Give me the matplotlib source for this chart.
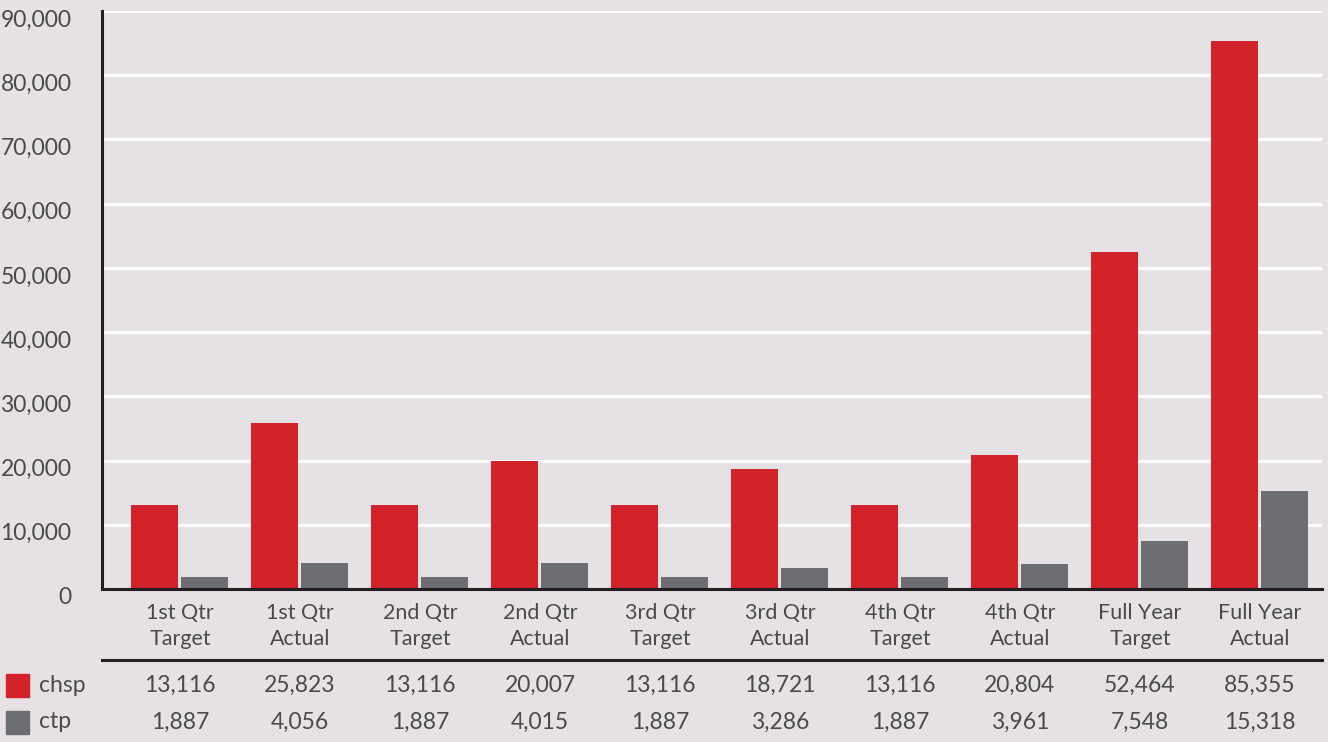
import matplotlib
matplotlib.use("Agg")
import matplotlib.pyplot as plt
import matplotlib.transforms as mtransforms
from matplotlib.patches import Rectangle
import numpy as np

categories = ["1st Qtr\nTarget", "1st Qtr\nActual", "2nd Qtr\nTarget", "2nd Qtr\nActual",
              "3rd Qtr\nTarget", "3rd Qtr\nActual", "4th Qtr\nTarget", "4th Qtr\nActual",
              "Full Year\nTarget", "Full Year\nActual"]
chsp = [13116, 25823, 13116, 20007, 13116, 18721, 13116, 20804, 52464, 85355]
ctp = [1887, 4056, 1887, 4015, 1887, 3286, 1887, 3961, 7548, 15318]
series_names = ["chsp", "ctp"]

RED = "#d2232a"
GRAY = "#6d6e71"
BG = "#e6e1e5"
INK = "#231f20"
TXT = "#4a4a4a"

plt.rcParams["font.family"] = ["Lato", "DejaVu Sans"]

W, H = 1328, 742
fig = plt.figure(figsize=(W / 100, H / 100), dpi=100, facecolor=BG)
ax = fig.add_axes([102 / W, (H - 589) / H, 1220 / W, 578 / H])
ax.set_facecolor(BG)

x = np.arange(len(categories))
bw = 0.39
ax.bar(x - 0.215, chsp, bw, color=RED, zorder=3)
ax.bar(x + 0.205, ctp, bw, color=GRAY, zorder=3)

ax.set_xlim(-0.65, 9.517)
ax.set_ylim(0, 90000)
ax.set_yticks(np.arange(0, 90001, 10000))
ax.set_yticklabels([f"{v:,}" for v in range(0, 90001, 10000)])
ax.yaxis.grid(True, color="white", lw=2.2, zorder=0)
ax.set_axisbelow(True)
ax.tick_params(axis="y", length=0, pad=22, labelsize=16.5, labelcolor=TXT)
ax.tick_params(axis="x", length=0, pad=10, labelsize=15.5, labelcolor=TXT)
ax.set_xticks(x)
ax.set_xticklabels(categories, linespacing=1.4)
shift = mtransforms.ScaledTranslation(0, -7 / 100, fig.dpi_scale_trans)
for lab in ax.get_yticklabels():
    lab.set_transform(lab.get_transform() + shift)

for s in ["top", "right"]:
    ax.spines[s].set_visible(False)
for s in ["left", "bottom"]:
    ax.spines[s].set_color(INK)
    ax.spines[s].set_linewidth(2.2)
    ax.spines[s].set_zorder(4)

# data table below the chart
tr = mtransforms.blended_transform_factory(ax.transData, fig.transFigure)
ax.plot([0, 1], [-71 / 578, -71 / 578], transform=ax.transAxes, color=INK,
        lw=2.2, clip_on=False)
rows = [(chsp, RED, 685), (ctp, GRAY, 722)]
for name, (vals, col, ypix) in zip(series_names, rows):
    yf = (H - ypix) / H
    fig.patches.append(Rectangle((6 / W, (H - ypix - 12) / H), 23 / W, 23 / H,
                                 transform=fig.transFigure, color=col))
    fig.text(39 / W, yf, name, va="center", ha="left", fontsize=16.5, color=TXT)
    for xi, v in zip(x, vals):
        fig.text(xi, yf, f"{v:,}", transform=tr, va="center", ha="center",
                 fontsize=16.5, color=TXT)

fig.savefig("out.png", dpi=100, facecolor=BG)
